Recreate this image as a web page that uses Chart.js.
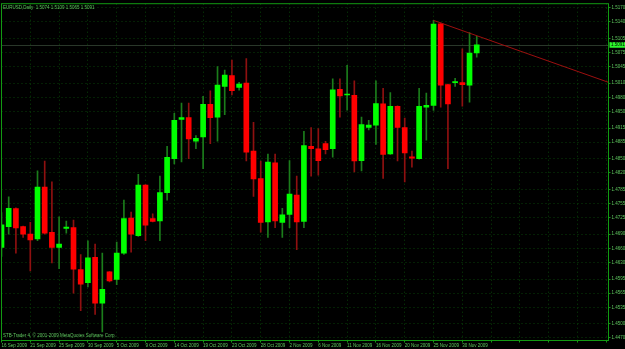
<!DOCTYPE html>
<html>
<head>
<meta charset="utf-8">
<script src="https://cdn.jsdelivr.net/npm/chart.js@4.4.1/dist/chart.umd.min.js"></script>
<style>
  html, body { margin: 0; padding: 0; background: #000; }
  #wrap { position: relative; width: 625px; height: 349px; }
</style>
</head>
<body>
<div id="wrap"><canvas id="chart" width="625" height="349"></canvas></div>
<script>
const headerText = 'EURUSD,Daily  1.5074 1.5109 1.5065 1.5091';
const copyrightText = 'STB-Trader 4, \u00a9 2001-2009 MetaQuotes Software Corp.';

// daily bars 16 Sep 2009 .. 2 Dec 2009 (broker has Sunday bars)
const opens = [
  1.4662, 1.4706, 1.4744, 1.4706, 1.4690, 1.4680, 1.4790, 1.4694, 1.4662, 1.4702,
  1.4704, 1.4615, 1.4587, 1.4641, 1.4544, 1.4610, 1.4594, 1.4650, 1.4724, 1.4687,
  1.4794, 1.4723, 1.4718, 1.4778, 1.4850, 1.4933, 1.4937, 1.4887, 1.4896, 1.4965,
  1.4938, 1.5003, 1.5026, 1.5001, 1.5010, 1.4866, 1.4808, 1.4716, 1.4841, 1.4715,
  1.4732, 1.4773, 1.4717, 1.4876, 1.4871, 1.4882, 1.4871, 1.4997, 1.4985, 1.4984,
  1.4846, 1.4916, 1.4921, 1.4966, 1.4860, 1.4961, 1.4916, 1.4854, 1.4850, 1.4959,
  1.4963, 1.5136, 1.5007, 1.5011, 1.5011, 1.5006, 1.5074
];
const highs = [
  1.4736, 1.4769, 1.4746, 1.4707, 1.4715, 1.4824, 1.4845, 1.4801, 1.4727, 1.4718,
  1.4720, 1.4647, 1.4676, 1.4669, 1.4650, 1.4611, 1.4673, 1.4762, 1.4737, 1.4817,
  1.4795, 1.4733, 1.4813, 1.4876, 1.4946, 1.4968, 1.4968, 1.4899, 1.4982, 1.4994,
  1.5045, 1.5038, 1.5059, 1.5012, 1.5062, 1.4927, 1.4845, 1.4860, 1.4860, 1.4745,
  1.4846, 1.4813, 1.4908, 1.4916, 1.4914, 1.4887, 1.5019, 1.5019, 1.5048, 1.5015,
  1.4938, 1.4931, 1.5015, 1.4999, 1.4990, 1.4962, 1.4936, 1.4866, 1.4999, 1.4989,
  1.5143, 1.5138, 1.5008, 1.5020, 1.5083, 1.5117, 1.5109
];
const lows = [
  1.4643, 1.4690, 1.4650, 1.4683, 1.4612, 1.4676, 1.4690, 1.4629, 1.4617, 1.4692,
  1.4565, 1.4528, 1.4578, 1.4520, 1.4483, 1.4589, 1.4583, 1.4647, 1.4652, 1.4685,
  1.4676, 1.4716, 1.4676, 1.4762, 1.4839, 1.4843, 1.4850, 1.4871, 1.4829, 1.4882,
  1.4887, 1.4943, 1.4985, 1.4995, 1.4845, 1.4770, 1.4694, 1.4683, 1.4704, 1.4683,
  1.4704, 1.4657, 1.4704, 1.4813, 1.4815, 1.4860, 1.4853, 1.4938, 1.4953, 1.4822,
  1.4824, 1.4911, 1.4880, 1.4808, 1.4859, 1.4845, 1.4801, 1.4832, 1.4849, 1.4889,
  1.4952, 1.4959, 1.4829, 1.5003, 1.4961, 1.4970, 1.5065
];
const closes = [
  1.4710, 1.4745, 1.4703, 1.4690, 1.4678, 1.4790, 1.4692, 1.4662, 1.4669, 1.4705,
  1.4616, 1.4584, 1.4640, 1.4544, 1.4573, 1.4591, 1.4650, 1.4723, 1.4690, 1.4794,
  1.4709, 1.4717, 1.4778, 1.4853, 1.4931, 1.4937, 1.4892, 1.4893, 1.4965, 1.4937,
  1.5006, 1.5027, 1.4994, 1.5008, 1.4864, 1.4807, 1.4715, 1.4843, 1.4718, 1.4731,
  1.4775, 1.4716, 1.4878, 1.4871, 1.4846, 1.4869, 1.4996, 1.4983, 1.4985, 1.4845,
  1.4922, 1.4921, 1.4967, 1.4859, 1.4961, 1.4916, 1.4862, 1.4851, 1.4961, 1.4963,
  1.5135, 1.5006, 1.4966, 1.5013, 1.5007, 1.5074, 1.5091
];

// one date label every 4 bars
const dateLabels = [
  '16 Sep 2009', '21 Sep 2009', '25 Sep 2009', '30 Sep 2009', '5 Oct 2009', '9 Oct 2009',
  '14 Oct 2009', '19 Oct 2009', '23 Oct 2009', '28 Oct 2009', '2 Nov 2009', '6 Nov 2009',
  '11 Nov 2009', '16 Nov 2009', '20 Nov 2009', '25 Nov 2009', '30 Nov 2009'
];
const priceTicks = [
  1.5170, 1.5140, 1.5105, 1.5075, 1.5045, 1.5010, 1.4980, 1.4950, 1.4915, 1.4885,
  1.4850, 1.4820, 1.4785, 1.4755, 1.4725, 1.4690, 1.4660, 1.4630, 1.4595, 1.4565,
  1.4535, 1.4500, 1.4470
];

// trend line drawn through two highs
const trendBars = [60, 65];
const trendPrices = [1.5143, 1.5116];

const X_MIN = 0, X_MAX = 84.3;
const Y_MIN = 1.44647, Y_MAX = 1.51784;

const UP = '#00ff00', DOWN = '#ff0000';
const UP_WICK = '#1b7d1b', DOWN_WICK = '#8f1010';
const FG = '#5fc85f';
const FRAME = '#129a12';
const GRID = 'rgba(10,80,10,0.8)';
const FONT = "'Liberation Sans', Arial, sans-serif";
const FONT_SIZE = 4.5;

const isUp = i => closes[i] >= opens[i];

const wickData = lows.map((l, i) => ({ x: i, y: [l, highs[i]] }));
const bodyData = opens.map((o, i) => ({ x: i, y: [o, closes[i]] }));

const slope = (trendPrices[1] - trendPrices[0]) / (trendBars[1] - trendBars[0]);
const trendData = [
  { x: trendBars[0], y: trendPrices[0] },
  { x: X_MAX + 2, y: trendPrices[0] + slope * (X_MAX + 2 - trendBars[0]) }
];

const xTicks = [];
for (let v = 0; v <= X_MAX; v += 4) xTicks.push(v);

const decor = {
  id: 'decor',
  beforeDatasetsDraw(chart) {
    // bid line at last close
    const { ctx, chartArea: a, scales: { y } } = chart;
    const yb = Math.round(y.getPixelForValue(closes[closes.length - 1])) + 0.5;
    ctx.save();
    ctx.strokeStyle = '#2a372a';
    ctx.lineWidth = 1;
    ctx.beginPath();
    ctx.moveTo(a.left, yb);
    ctx.lineTo(a.right, yb);
    ctx.stroke();
    ctx.restore();
  },
  afterDraw(chart) {
    const { ctx, chartArea: a, scales: { y } } = chart;
    ctx.save();
    ctx.strokeStyle = FRAME;
    ctx.lineWidth = 1;
    ctx.strokeRect(a.left, a.top, a.right - a.left, a.bottom - a.top);

    ctx.fillStyle = FG;
    ctx.font = FONT_SIZE + 'px ' + FONT;
    ctx.textBaseline = 'middle';
    ctx.textAlign = 'left';
    ctx.fillText(headerText, a.left + 1.5, a.top + 3.6);
    ctx.fillText(copyrightText, a.left + 1.5, a.bottom - 4.5);

    // bid price label
    const last = closes[closes.length - 1];
    const yb = y.getPixelForValue(last);
    ctx.fillStyle = '#2cf52c';
    ctx.fillRect(a.right + 1, yb - 2.8, 16, 5.6);
    ctx.fillStyle = '#000';
    ctx.fillText(last.toFixed(4), a.right + 2.5, yb + 0.2);
    ctx.restore();
  }
};

new Chart(document.getElementById('chart'), {
  type: 'bar',
  data: {
    datasets: [
      {
        label: 'wicks',
        data: wickData,
        barThickness: 1,
        backgroundColor: c => isUp(c.dataIndex) ? UP_WICK : DOWN_WICK,
        borderWidth: 0,
        grouped: false,
        order: 2
      },
      {
        label: 'bodies',
        data: bodyData,
        barThickness: 5,
        minBarLength: 1,
        backgroundColor: c => isUp(c.dataIndex) ? UP : DOWN,
        borderWidth: 0,
        grouped: false,
        order: 1
      },
      {
        type: 'line',
        label: 'trend',
        data: trendData,
        borderColor: '#9c0f0f',
        borderWidth: 1,
        pointRadius: 0,
        fill: false,
        order: 0
      }
    ]
  },
  options: {
    responsive: false,
    animation: false,
    devicePixelRatio: 1,
    layout: { padding: { left: 1.5, top: 1.5, right: 0, bottom: 0 } },
    plugins: {
      legend: { display: false },
      tooltip: { enabled: false }
    },
    scales: {
      x: {
        type: 'linear',
        min: X_MIN,
        max: X_MAX,
        offset: false,
        afterBuildTicks: s => { s.ticks = xTicks.map(v => ({ value: v })); },
        afterFit: s => { s.height = 8.5; },
        grid: {
          offset: false,
          color: GRID,
          lineWidth: 1,
          tickLength: 2,
          tickColor: FRAME
        },
        border: { display: false, dash: [1, 3] },
        ticks: {
          autoSkip: false,
          maxRotation: 0,
          align: 'start',
          padding: 1,
          color: FG,
          font: { family: FONT, size: FONT_SIZE },
          callback: v => dateLabels[v / 4] || ''
        }
      },
      y: {
        type: 'linear',
        position: 'right',
        min: Y_MIN,
        max: Y_MAX,
        afterBuildTicks: s => { s.ticks = priceTicks.map(v => ({ value: v })); },
        afterFit: s => { s.width = 16.5; },
        grid: {
          color: GRID,
          lineWidth: 1,
          tickLength: 2,
          tickColor: FRAME
        },
        border: { display: false, dash: [1, 3] },
        ticks: {
          padding: 1,
          color: FG,
          font: { family: FONT, size: FONT_SIZE },
          callback: v => v.toFixed(4)
        }
      }
    }
  },
  plugins: [decor]
});
</script>
</body>
</html>
